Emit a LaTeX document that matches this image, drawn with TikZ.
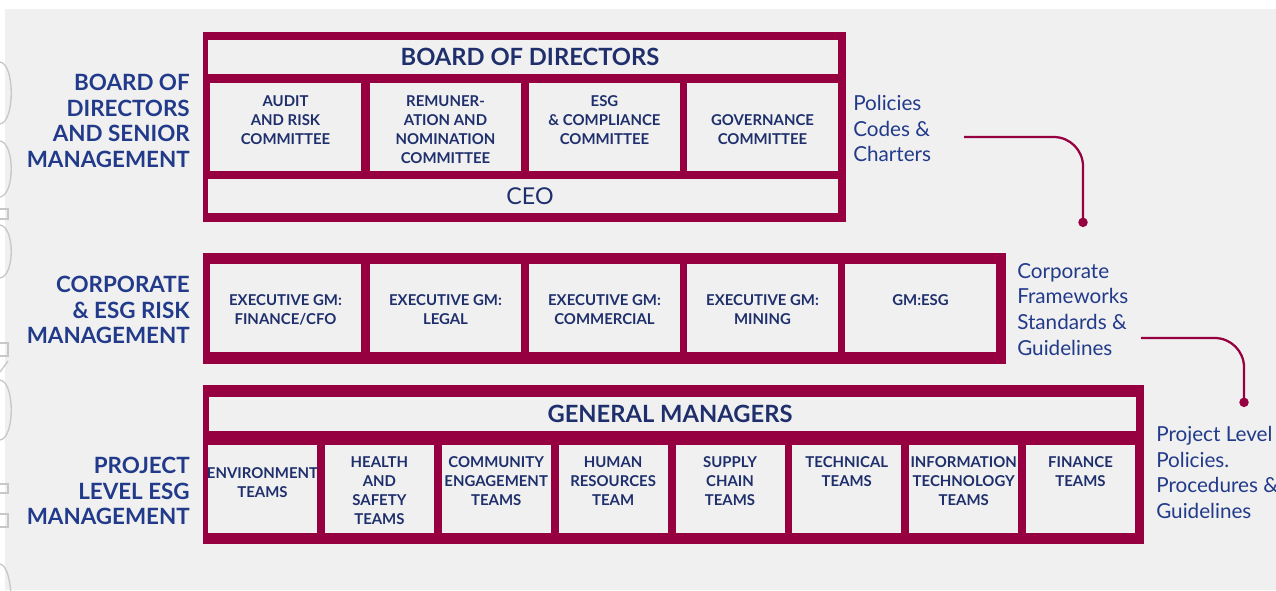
\documentclass[tikz,border=0pt]{standalone}
\usepackage{fontspec}
\setmainfont{Lato}
\usetikzlibrary{arrows.meta,positioning}

\definecolor{panel}{RGB}{240,240,240}
\definecolor{wine}{RGB}{150,0,64}
\definecolor{navy}{RGB}{30,47,108}
\definecolor{labelblue}{RGB}{34,58,138}
\definecolor{ghost}{RGB}{200,200,200}

\tikzset{
  cell/.style 2 args={fill=panel, inner sep=0pt, minimum width=#1*0.75pt, minimum height=#2*0.75pt},
  head/.style={font=\bfseries\fontsize{17.8}{20}\selectfont, text=navy, inner sep=0pt},
  boxtxt/.style={font=\bfseries\fontsize{11.2}{14.25}\selectfont, text=navy, align=center, inner sep=0pt},
  level/.style={font=\bfseries\fontsize{16.8}{19.1}\selectfont, text=labelblue, align=right, anchor=north east, inner sep=0pt},
  note/.style={font=\fontsize{15.5}{19.2}\selectfont, text=labelblue, align=left, anchor=north west, inner sep=0pt},
  link/.style={draw=wine, line width=1.7pt, rounded corners=22pt, -{Circle[length=7pt]}},
}

\begin{document}
\begin{tikzpicture}[x=0.75pt,y=-0.75pt]
    \useasboundingbox (0,0) rectangle (1276,590);
    \fill[panel] (5,9) rectangle (1276,590);

    % outlined letters along the left edge
    \begin{scope}[draw=ghost, line width=1pt]
        \draw (0,62) .. controls (15,64) and (15,122) .. (0,124);
        \draw (0,141) .. controls (15,143) and (15,195) .. (0,197);
        \draw (-1,209) rectangle (8,219);
        \draw (0,225) .. controls (15,227) and (15,276) .. (0,278);
        \draw (-1,343) rectangle (8,356);
        \draw (0,372) -- (8,361);
        \draw (0,380) .. controls (15,382) and (15,438) .. (0,440);
        \draw (-1,484) rectangle (8,493);
        \draw (-1,514) rectangle (8,527);
        \draw (0,564) .. controls (15,566) and (15,640) .. (0,650);
    \end{scope}

    % level names
    \node[level] (lvl-board) at (190,74) {BOARD OF\\DIRECTORS\\AND SENIOR\\MANAGEMENT};
    \node[level] (lvl-corp) at (190,276) {CORPORATE\\\& ESG RISK\\MANAGEMENT};
    \node[level] (lvl-proj) at (190,457) {PROJECT\\LEVEL ESG\\MANAGEMENT};

    % board and senior management
    \fill[wine] (203,32) rectangle (846,222);
    \node[cell={630}{34}] (board) at (523,57) {};
    \node[head] (board-t) at (530,57) {BOARD OF DIRECTORS};
    \node[cell={151}{88}] (audit) at (285.5,127) {};
    \node[cell={151}{88}] (remun) at (445.5,127) {};
    \node[cell={151}{88}] (esgc) at (604.5,127) {};
    \node[cell={151}{88}] (gov) at (762.5,127) {};
    \node[boxtxt, below=9.5pt of audit.north] (audit-t) {AUDIT\\AND RISK\\COMMITTEE};
    \node[boxtxt, below=9.5pt of remun.north] (remun-t) {REMUNER-\\ATION AND\\NOMINATION\\COMMITTEE};
    \node[boxtxt, below=9.5pt of esgc.north] (esgc-t) {ESG\\\& COMPLIANCE\\COMMITTEE};
    \node[boxtxt, below=23.7pt of gov.north] (gov-t) {GOVERNANCE\\COMMITTEE};
    \node[cell={630}{34}] (ceo) at (523,196) {};
    \node[head, font=\fontsize{17.4}{20}\selectfont] (ceo-t) at (530,196) {CEO};

    % corporate and ESG risk management
    \fill[wine] (203,253) rectangle (1006,364);
    \node[cell={151}{88}] (cfo) at (285.5,308) {};
    \node[cell={151}{88}] (legal) at (445.5,308) {};
    \node[cell={151}{88}] (comm) at (604.5,308) {};
    \node[cell={151}{88}] (mining) at (762.5,308) {};
    \node[cell={151}{88}] (gmesg) at (920.5,308) {};
    \node[boxtxt, below=23pt of cfo.north] (cfo-t) {EXECUTIVE GM:\\FINANCE/CFO};
    \node[boxtxt, below=23pt of legal.north] (legal-t) {EXECUTIVE GM:\\LEGAL};
    \node[boxtxt, below=23pt of comm.north] (comm-t) {EXECUTIVE GM:\\COMMERCIAL};
    \node[boxtxt, below=23pt of mining.north] (mining-t) {EXECUTIVE GM:\\MINING};
    \node[boxtxt, below=23pt of gmesg.north] (gmesg-t) {GM:ESG};

    % project level ESG management
    \fill[wine] (203,385) rectangle (1144,544);
    \node[cell={927}{34}] (gms) at (672.5,414) {};
    \node[head] (gms-t) at (670,414) {GENERAL MANAGERS};
    \node[cell={109}{88}] (env) at (262.5,489) {};
    \node[cell={109}{88}] (hs) at (379.4,489) {};
    \node[cell={109}{88}] (ce) at (496.2,489) {};
    \node[cell={109}{88}] (hr) at (613.1,489) {};
    \node[cell={109}{88}] (sc) at (730,489) {};
    \node[cell={109}{88}] (tech) at (846.8,489) {};
    \node[cell={109}{88}] (it) at (963.7,489) {};
    \node[cell={109}{88}] (fin) at (1080.5,489) {};
    \node[boxtxt, below=17pt of env.north] (env-t) {ENVIRONMENT\\TEAMS};
    \node[boxtxt, below=8.7pt of hs.north] (hs-t) {HEALTH\\AND\\SAFETY\\TEAMS};
    \node[boxtxt, below=8.7pt of ce.north] (ce-t) {COMMUNITY\\ENGAGEMENT\\TEAMS};
    \node[boxtxt, below=8.7pt of hr.north] (hr-t) {HUMAN\\RESOURCES\\TEAM};
    \node[boxtxt, below=8.7pt of sc.north] (sc-t) {SUPPLY\\CHAIN\\TEAMS};
    \node[boxtxt, below=8.7pt of tech.north] (tech-t) {TECHNICAL\\TEAMS};
    \node[boxtxt, below=8.7pt of it.north] (it-t) {INFORMATION\\TECHNOLOGY\\TEAMS};
    \node[boxtxt, below=8.7pt of fin.north] (fin-t) {FINANCE\\TEAMS};

    % documents at each level
    \node[note] (policies) at (853,95) {Policies\\Codes \&\\Charters};
    \node[note] (frameworks) at (1017,263) {Corporate\\Frameworks\\Standards \&\\Guidelines};
    \node[note] (procedures) at (1156,426) {Project Level\\Policies.\\Procedures \&\\Guidelines};

    \coordinate (pol-out) at (964,137);
    \coordinate (pol-in) at (1083,227);
    \coordinate (fw-out) at (1141,338);
    \coordinate (fw-in) at (1244,407);
    \draw[link] (pol-out) -| (pol-in);
    \draw[link] (fw-out) -| (fw-in);
\end{tikzpicture}
\end{document}
